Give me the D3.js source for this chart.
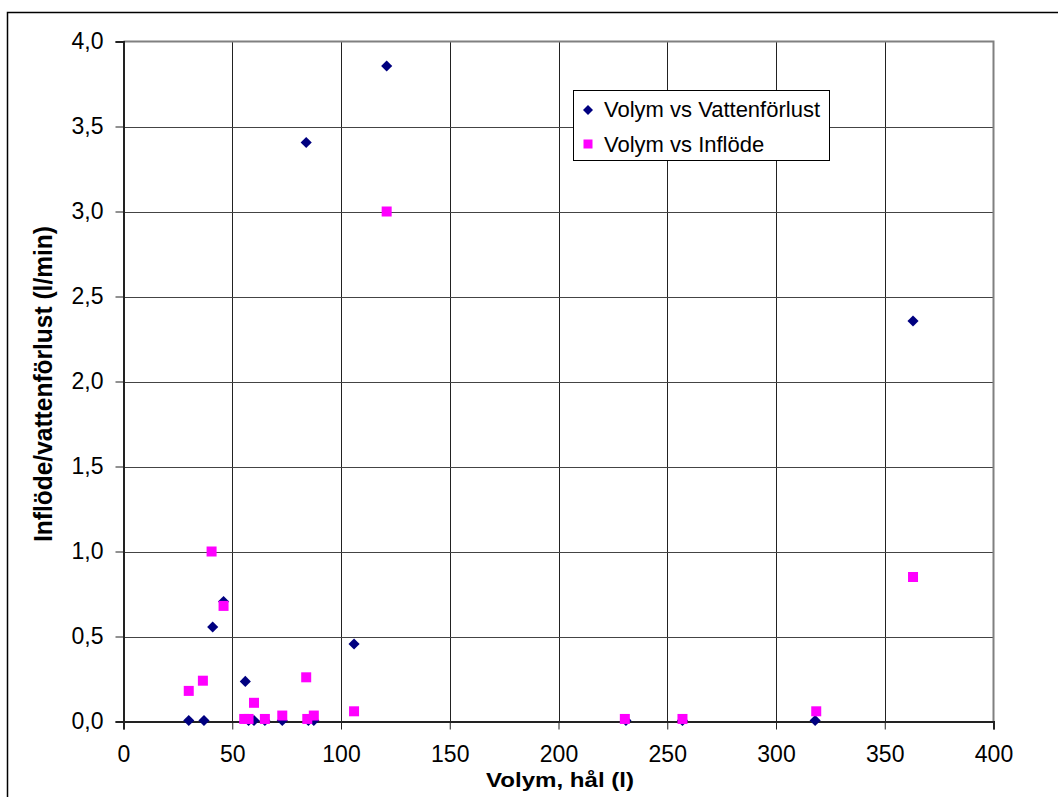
<!DOCTYPE html>
<html>
<head>
<meta charset="utf-8">
<script src="https://cdn.jsdelivr.net/npm/d3@7"></script>
<style>
  body { margin: 0; background: #fff; }
  svg { display: block; font-family: "Liberation Sans", Arial, sans-serif; }
</style>
</head>
<body>
<div id="chart"></div>
<script>
// borehole volume (l)
const volym = [30, 37, 41, 46, 56, 57.5, 60, 65, 73, 84, 85, 87.5, 106, 121, 231, 257, 318, 363];
// water loss (l/min)
const vattenforlust = [0, 0, 0.55, 0.70, 0.23, 0, 0, 0, 0, 3.40, 0, 0, 0.45, 3.85, 0, 0, 0, 2.35];
// inflow (l/min)
const inflode = [0.18, 0.24, 1.00, 0.68, 0.015, 0.015, 0.11, 0.015, 0.035, 0.26, 0.015, 0.035, 0.06, 3.00, 0.015, 0.015, 0.06, 0.85];
const volymInflode = [30, 36.5, 40.5, 46, 55.5, 57.5, 60, 65, 73, 84, 84.5, 87.5, 106, 121, 230.5, 257, 318.5, 363];

const xTicks = [0, 50, 100, 150, 200, 250, 300, 350, 400];
const yTicks = [0, 0.5, 1, 1.5, 2, 2.5, 3, 3.5, 4];
const seriesNames = ["Volym vs Vattenförlust", "Volym vs Inflöde"];

const W = 1058, H = 797;
const svg = d3.select("#chart").append("svg")
    .attr("width", W)
    .attr("height", H);

// outer chart frame
svg.append("rect")
    .attr("x", 7.5).attr("y", 12.5)
    .attr("width", W).attr("height", H)
    .attr("fill", "none")
    .attr("stroke", "#000")
    .attr("stroke-width", 1.5);

const x = d3.scaleLinear().domain([0, 400]).range([123.5, 993.5]);
const y = d3.scaleLinear().domain([0, 4]).range([721.5, 41.5]);

// gridlines
svg.append("g")
    .selectAll("line")
    .data(xTicks.slice(1, -1))
    .join("line")
    .attr("x1", d => Math.round(x(d)) + 0.5).attr("x2", d => Math.round(x(d)) + 0.5)
    .attr("y1", y(4)).attr("y2", y(0))
    .attr("stroke", "#222").attr("stroke-width", 1);

svg.append("g")
    .selectAll("line")
    .data(yTicks.slice(1, -1))
    .join("line")
    .attr("x1", x(0)).attr("x2", x(400))
    .attr("y1", d => Math.round(y(d)) + 0.5).attr("y2", d => Math.round(y(d)) + 0.5)
    .attr("stroke", "#444").attr("stroke-width", 1);

// plot border top / right
svg.append("path")
    .attr("d", `M${x(0)},${y(4)}H${x(400)}V${y(0)}`)
    .attr("fill", "none")
    .attr("stroke", "#808080")
    .attr("stroke-width", 2);

const fmt = d => d3.format(".1f")(d).replace(".", ",");

const yAxis = svg.append("g")
    .attr("transform", `translate(${x(0)},0)`)
    .call(d3.axisLeft(y).tickValues(yTicks).tickSize(8).tickPadding(12).tickFormat(fmt));
const xAxis = svg.append("g")
    .attr("transform", `translate(0,${y(0)})`)
    .call(d3.axisBottom(x).tickValues(xTicks).tickSize(8).tickPadding(12).tickFormat(d3.format("d")));

[xAxis, yAxis].forEach(a => {
    a.select(".domain").attr("stroke", "#222").attr("stroke-width", 2);
    a.selectAll(".tick line").attr("stroke", "#222");
    a.selectAll("text")
        .attr("fill", "#000")
        .style("font-size", "23px")
        .style("font-family", "'Liberation Sans', Arial, sans-serif");
});
xAxis.selectAll("text").attr("dy", "0.9em");

// axis titles
svg.append("text")
    .attr("x", 560).attr("y", 787)
    .attr("text-anchor", "middle")
    .attr("textLength", 148).attr("lengthAdjust", "spacingAndGlyphs")
    .style("font-size", "21px").style("font-weight", "bold")
    .text("Volym, hål (l)");

svg.append("text")
    .attr("transform", "translate(52,384) rotate(-90)")
    .attr("text-anchor", "middle")
    .attr("textLength", 316).attr("lengthAdjust", "spacingAndGlyphs")
    .style("font-size", "25px").style("font-weight", "bold")
    .text("Inflöde/vattenförlust (l/min)");

// marks: diamond = square turned 45 degrees
const diamond = d3.symbol().type(d3.symbolSquare).size(62);
const lossPts = volym.map((v, i) => [v, vattenforlust[i]]);
const inPts = volymInflode.map((v, i) => [v, inflode[i]]);

svg.append("g")
    .selectAll("path")
    .data(lossPts)
    .join("path")
    .attr("d", diamond)
    .attr("transform", d => `translate(${x(d[0])},${y(d[1]) - 1}) rotate(45)`)
    .attr("fill", "#000080");

svg.append("g")
    .selectAll("rect")
    .data(inPts)
    .join("rect")
    .attr("x", d => x(d[0]) - 5).attr("y", d => y(d[1]) - 5)
    .attr("width", 10).attr("height", 10)
    .attr("fill", "#ff00ff");

// legend
const legend = svg.append("g");
legend.append("rect")
    .attr("x", 573.5).attr("y", 90.5)
    .attr("width", 256).attr("height", 70)
    .attr("fill", "#fff")
    .attr("stroke", "#000");
legend.append("path")
    .attr("d", d3.symbol().type(d3.symbolSquare).size(50))
    .attr("transform", "translate(588,110) rotate(45)")
    .attr("fill", "#000080");
legend.append("rect")
    .attr("x", 583.5).attr("y", 139.5)
    .attr("width", 9).attr("height", 9)
    .attr("fill", "#ff00ff");
legend.selectAll("text.lbl")
    .data(seriesNames)
    .join("text")
    .attr("class", "lbl")
    .attr("x", 604)
    .attr("y", (d, i) => 117 + i * 35)
    .style("font-size", "22px")
    .text(d => d);
</script>
</body>
</html>
